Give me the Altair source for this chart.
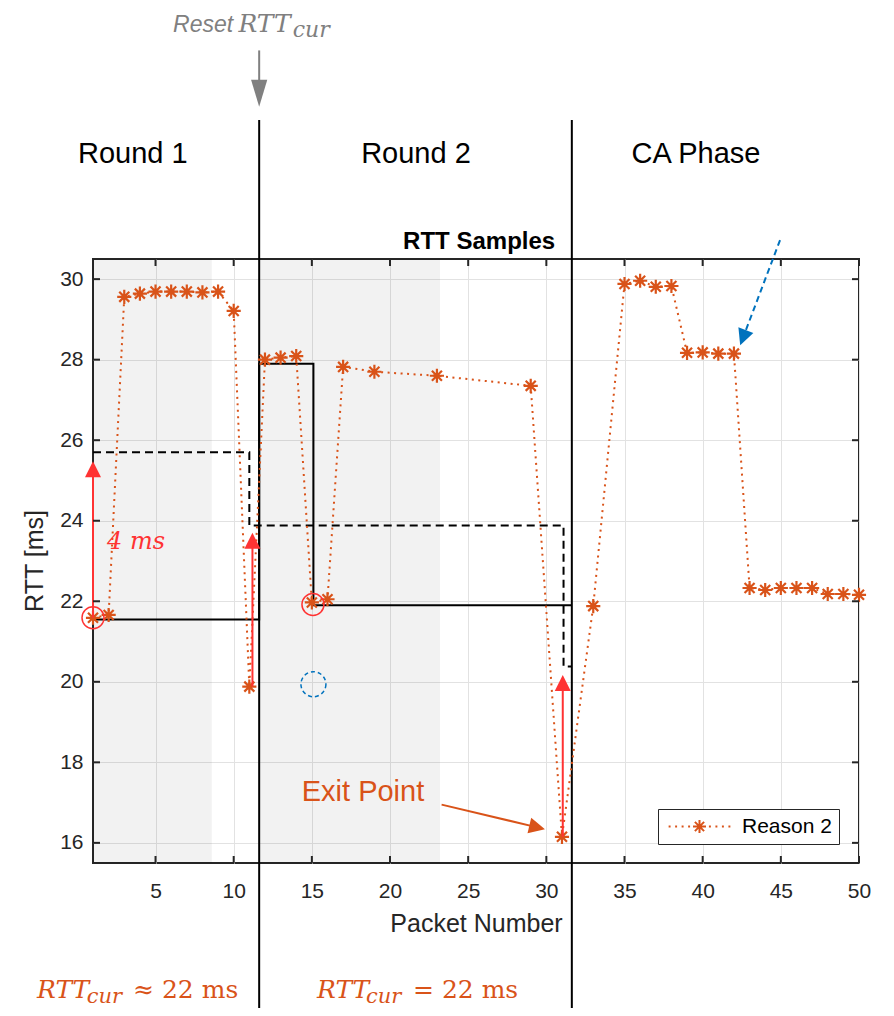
import math
import altair as alt
import pandas as pd

# ---------------- data ----------------
packet = [1, 2, 3, 4, 5, 6, 7, 8, 9, 10, 11, 12, 13, 14, 15, 16, 17, 19, 23, 29, 31,
          33, 35, 36, 37, 38, 39, 40, 41, 42, 43, 44, 45, 46, 47, 48, 49, 50]
rtt = [21.59, 21.66, 29.56, 29.64, 29.69, 29.69, 29.69, 29.67, 29.69, 29.21, 19.88,
       28.0, 28.05, 28.09, 21.97, 22.05, 27.82, 27.7, 27.6, 27.35, 16.15,
       21.88, 29.88, 29.96, 29.81, 29.83, 28.17, 28.18, 28.15, 28.15,
       22.33, 22.28, 22.33, 22.33, 22.33, 22.18, 22.18, 22.16]
series_name = ["Reason 2"]

x_ticks = [5, 10, 15, 20, 25, 30, 35, 40, 45, 50]
y_ticks = [16, 18, 20, 22, 24, 26, 28, 30]

# phase boundaries and shaded spans
boundaries = [11.63, 31.63]
boundary_top = [33.95]
boundary_bottom = [11.0]
shade_start = [1, 11.63]
shade_end = [8.6, 23.2]

# step lines
solid_x = [1, 11.63, 11.63, 15.1, 15.1, 31.63]
solid_y = [21.55, 21.55, 27.9, 27.9, 21.9, 21.9]
dash_x = [1, 11.0, 11.0, 31.1, 31.1, 31.63]
dash_y = [25.7, 25.7, 23.88, 23.88, 20.38, 20.38]

# red arrows (vertical)
red_x = [1, 11.2, 31.05]
red_from = [21.59, 19.88, 16.15]
red_to = [25.48, 23.7, 20.17]

# circles
red_circle_x = [1, 15.07]
red_circle_y = [21.59, 21.92]
blue_circle_x = [15.1]
blue_circle_y = [19.94]

# other arrows  (start -> tip)
blue_arrow = ([44.95], [30.97], [42.4], [28.36])
exit_arrow = ([23.3], [16.95], [29.91], [16.34])
reset_arrow = ([11.63], [35.68], [11.63], [34.28])

# texts
round_labels = ["Round 1", "Round 2", "CA Phase"]
round_x = [3.55, 21.66, 39.57]
round_y = [32.88, 32.88, 32.88]

# ---------------- layout / style ----------------
W, H = 766, 604
XMIN, XMAX, YMIN, YMAX = 1, 50, 15.5, 30.5
PX = W / (XMAX - XMIN)
PY = H / (YMAX - YMIN)
ORANGE = "#D95319"
RED = "#FF3333"
BLUE = "#0072BD"
GRAY = "#808080"
AX = "#262626"
SANS = "Liberation Sans"
MATH = "DejaVu Serif"
TL = 7  # inward tick length

XS = alt.Scale(domain=[XMIN, XMAX], nice=False, zero=False)
YS = alt.Scale(domain=[YMIN, YMAX], nice=False, zero=False)
XAX = alt.Axis(values=x_ticks, title=None, ticks=False, domain=False, grid=True,
               labelFontSize=21, labelPadding=17, labelFlush=False, labelFont=SANS,
               labelColor=AX, gridColor="#e2e2e2", gridWidth=1)
YAX = alt.Axis(values=y_ticks, title=None, ticks=False, domain=False, grid=True,
               labelFontSize=21, labelPadding=10, labelFlush=False, labelFont=SANS,
               labelColor=AX, gridColor="#e2e2e2", gridWidth=1)


def X(f):
    return alt.X(f, type="quantitative", scale=XS, axis=XAX)


def Y(f):
    return alt.Y(f, type="quantitative", scale=YS, axis=YAX)


AST = "M-1,0L1,0M0,-1L0,1M-0.71,-0.71L0.71,0.71M-0.71,0.71L0.71,-0.71"
LEG = AST + "".join(f"M{c - 0.15:.2f},0L{c + 0.15:.2f},0" for c in
                    [-4.6, -3.6, -2.6, -1.6, 1.6, 2.6, 3.6, 4.6])
HEAD = "M0,0L-0.5,1L0.5,1Z"
HEAD_TALL = "M0,0L-0.3,1L0.3,1Z"

layers = []

# shaded rounds
shade = pd.DataFrame({"s": shade_start, "e": shade_end})
layers.append(alt.Chart(shade).mark_rect(color="#000000", opacity=0.05).encode(
    x=X("s"), x2=alt.X2("e"), y=alt.value(0), y2=alt.value(H)))

# phase dividers
div = pd.DataFrame({"b": boundaries, "t": boundary_top * 2, "u": boundary_bottom * 2})
layers.append(alt.Chart(div).mark_rule(color="#000000", strokeWidth=2).encode(
    x=X("b"), y=Y("t"), y2=alt.Y2("u")))

# step lines
sdf = pd.DataFrame({"x": solid_x, "y": solid_y, "i": range(len(solid_x))})
layers.append(alt.Chart(sdf).mark_line(color="#000000", strokeWidth=2).encode(
    x=X("x"), y=Y("y"), order="i:Q"))
ddf = pd.DataFrame({"x": dash_x, "y": dash_y, "i": range(len(dash_x))})
layers.append(alt.Chart(ddf).mark_line(color="#000000", strokeWidth=2, strokeDash=[8, 5]).encode(
    x=X("x"), y=Y("y"), order="i:Q"))

# RTT samples
data = pd.DataFrame({"packet": packet, "rtt": rtt, "series": series_name * len(packet)})
layers.append(alt.Chart(data).mark_line(color=ORANGE, strokeWidth=2, strokeDash=[2, 4.5]).encode(
    x=X("packet"), y=Y("rtt")))
layers.append(alt.Chart(data).mark_point(shape=AST, size=200, strokeWidth=2.2, filled=False,
                                         opacity=1).encode(
    x=X("packet"), y=Y("rtt"),
    color=alt.Color("series:N", scale=alt.Scale(domain=series_name, range=[ORANGE]),
                    legend=alt.Legend(orient="none", legendX=565, legendY=550, title=None,
                                      symbolType=LEG, symbolSize=169, symbolStrokeWidth=2,
                                      symbolOffset=24, labelOffset=32, labelFontSize=21,
                                      labelFont=SANS, labelColor="#000000",
                                      strokeColor=AX, fillColor="white", padding=7))))


def arrow_layers(xs0, ys0, xs1, ys1, color, head_path, head_size, head_len, dash=None):
    rows = []
    for x0, y0, x1, y1 in zip(xs0, ys0, xs1, ys1):
        dxp = (x1 - x0) * PX
        dyp = -(y1 - y0) * PY
        L = math.hypot(dxp, dyp)
        ux, uy = dxp / L, dyp / L
        rows.append(dict(x0=x0, y0=y0, x1=x1, y1=y1,
                         xe=x1 - ux * head_len / PX, ye=y1 + uy * head_len / PY,
                         angle=math.degrees(math.atan2(ux, -uy)) % 360))
    df = pd.DataFrame(rows)
    kw = dict(color=color, strokeWidth=2)
    if dash:
        kw["strokeDash"] = dash
    shaft = alt.Chart(df).mark_rule(**kw).encode(
        x=X("x0"), y=Y("y0"), x2=alt.X2("xe"), y2=alt.Y2("ye"))
    head = alt.Chart(df).mark_point(shape=head_path, size=head_size, filled=True, color=color,
                                    opacity=1, strokeWidth=0).encode(
        x=X("x1"), y=Y("y1"), angle=alt.Angle("angle:Q", scale=None))
    return [shaft, head]


layers += arrow_layers(red_x, red_from, red_x, red_to, RED, HEAD, 1024, 10)
layers += arrow_layers(*blue_arrow, BLUE, HEAD, 1024, 10, dash=[6, 4])
layers += arrow_layers(*exit_arrow, ORANGE, HEAD, 1024, 10)
layers += arrow_layers(*reset_arrow, GRAY, HEAD_TALL, 2916, 15)

# circles
rc = pd.DataFrame({"x": red_circle_x, "y": red_circle_y})
layers.append(alt.Chart(rc).mark_point(shape="circle", size=484, filled=False, color=RED,
                                       strokeWidth=1.5, opacity=1).encode(x=X("x"), y=Y("y")))
bc = pd.DataFrame({"x": blue_circle_x, "y": blue_circle_y})
layers.append(alt.Chart(bc).mark_point(shape="circle", size=625, filled=False, color=BLUE,
                                       strokeWidth=1.5, strokeDash=[4, 3], opacity=1).encode(
    x=X("x"), y=Y("y")))

# inward ticks on all four sides
xt = pd.DataFrame({"v": x_ticks})
yt = pd.DataFrame({"v": y_ticks})
layers.append(alt.Chart(xt).mark_rule(color=AX, strokeWidth=2).encode(
    x=X("v"), y=alt.value(H), y2=alt.value(H - TL)))
layers.append(alt.Chart(xt).mark_rule(color=AX, strokeWidth=2).encode(
    x=X("v"), y=alt.value(0), y2=alt.value(TL)))
layers.append(alt.Chart(yt).mark_rule(color=AX, strokeWidth=2).encode(
    y=Y("v"), x=alt.value(0), x2=alt.value(TL)))
layers.append(alt.Chart(yt).mark_rule(color=AX, strokeWidth=2).encode(
    y=Y("v"), x=alt.value(W), x2=alt.value(W - TL)))


def text_layer(xs, ys, texts, **kw):
    df = pd.DataFrame({"x": xs, "y": ys, "t": texts})
    base = dict(baseline="alphabetic", align="left")
    base.update(kw)
    return alt.Chart(df).mark_text(**base).encode(x=X("x"), y=Y("y"), text="t:N")


layers.append(text_layer(round_x, round_y, round_labels, align="center", font=SANS,
                         fontSize=29, color="#000000"))
layers.append(text_layer([25.7], [30.76], ["RTT Samples"], align="center", font=SANS,
                         fontSize=24, fontWeight="bold", color="#000000"))
layers.append(text_layer([25.53], [13.79], ["Packet Number"], align="center", font=SANS,
                         fontSize=25, color=AX))
layers.append(text_layer([-2.2], [23.0], ["RTT [ms]"], align="center", font=SANS,
                         fontSize=25, color=AX, angle=270))
layers.append(text_layer([18.27], [17.03], ["Exit Point"], align="center", font=SANS,
                         fontSize=29, color=ORANGE))
layers.append(text_layer([1.9], [23.3], ["4 ms"], font=MATH, fontStyle="italic",
                         fontSize=24, color=RED))
# Reset RTT_cur
layers.append(text_layer([6.12], [36.13], ["Reset"], font=SANS, fontStyle="italic",
                         fontSize=23, color=GRAY))
layers.append(text_layer([10.3], [36.13], ["RTT"], font=MATH, fontStyle="italic",
                         fontSize=25, color=GRAY))
layers.append(text_layer([13.78], [36.02], ["cur"], font=MATH, fontStyle="italic",
                         fontSize=22, color=GRAY))
# bottom RTT_cur statements
layers.append(text_layer([-2.58, 15.33], [12.15, 12.15], ["RTT", "RTT"], font=MATH,
                         fontStyle="italic", fontSize=25, color=ORANGE))
layers.append(text_layer([0.6, 18.46], [12.03, 12.03], ["cur", "cur"], font=MATH,
                         fontStyle="italic", fontSize=21, color=ORANGE))
layers.append(text_layer([3.56, 21.47], [12.15, 12.15], ["\u2248 22 ms", "= 22 ms"], font=MATH,
                         fontSize=25, color=ORANGE))

chart = alt.layer(*layers).properties(
    width=W, height=H,
    padding={"left": 85, "top": 251, "right": 20, "bottom": 145},
    autosize=alt.AutoSizeParams(type="none"),
).configure_view(stroke=AX, strokeWidth=2)

chart.save("out.html", embed_options={"renderer": "svg", "actions": False})
